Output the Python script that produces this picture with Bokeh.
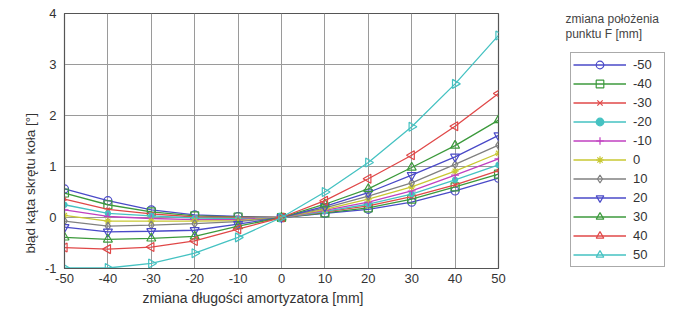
import math
from bokeh.plotting import figure
from bokeh.layouts import row
from bokeh.models import Range1d, FixedTicker, Legend, LegendItem, Label, Title
from bokeh.embed import file_html
from bokeh.resources import INLINE

x_vals = [-50, -40, -30, -20, -10, 0, 10, 20, 30, 40, 50]
series_names = ["-50", "-40", "-30", "-20", "-10", "0", "10", "20", "30", "40", "50"]
s_m50 = [0.56, 0.33, 0.15, 0.05, 0.02, 0, 0.08, 0.16, 0.30, 0.52, 0.77]
s_m40 = [0.48, 0.25, 0.11, 0.03, 0.01, 0, 0.09, 0.19, 0.36, 0.60, 0.85]
s_m30 = [0.36, 0.16, 0.07, 0.01, 0.00, 0, 0.11, 0.23, 0.41, 0.64, 0.92]
s_m20 = [0.25, 0.08, 0.03, -0.01, -0.02, 0, 0.12, 0.26, 0.46, 0.74, 1.03]
s_m10 = [0.15, 0.02, -0.02, -0.04, -0.04, 0, 0.14, 0.30, 0.52, 0.83, 1.15]
s_0 = [0.04, -0.07, -0.07, -0.07, -0.06, 0, 0.16, 0.36, 0.60, 0.91, 1.26]
s_10 = [-0.07, -0.17, -0.15, -0.12, -0.08, 0, 0.19, 0.42, 0.68, 1.04, 1.42]
s_20 = [-0.19, -0.28, -0.27, -0.25, -0.13, 0, 0.22, 0.49, 0.83, 1.19, 1.61]
s_30 = [-0.39, -0.43, -0.41, -0.37, -0.17, 0, 0.26, 0.56, 0.98, 1.41, 1.91]
s_40 = [-0.59, -0.62, -0.58, -0.46, -0.23, 0, 0.33, 0.76, 1.22, 1.79, 2.43]
s_50 = [-0.99, -0.99, -0.90, -0.70, -0.39, 0, 0.50, 1.08, 1.78, 2.62, 3.57]
series = [s_m50, s_m40, s_m30, s_m20, s_m10, s_0, s_10, s_20, s_30, s_40, s_50]

x_ticks = [-50, -40, -30, -20, -10, 0, 10, 20, 30, 40, 50]
y_ticks = [-1, 0, 1, 2, 3, 4]

x_title = "zmiana długości amortyzatora [mm]"
y_title = "błąd kąta skrętu koła [°]"
legend_title_1 = "zmiana położenia"
legend_title_2 = "punktu F [mm]"

BLUE = "#4a4ac8"
GREEN = "#3c9a3c"
RED = "#e04848"
CYAN = "#45c2c2"
MAGENTA = "#c040c0"
YELLOW = "#c8c832"
GRAY = "#808080"
colors = [BLUE, GREEN, RED, CYAN, MAGENTA, YELLOW, GRAY, BLUE, GREEN, RED, CYAN]
markers = ["circle", "square", "x", "circle", "cross", "asterisk", "diamond",
           "inverted_triangle", "triangle", "triangle", "triangle"]
angles = [0, 0, 0, 0, 0, 0, 0, 0, 0, math.pi / 2, -math.pi / 2]
sizes = [8, 8, 5, 5, 8, 7, 8, 9, 9, 9, 9]
filled = [False, False, False, True, False, False, False, False, False, False, False]

FONT = "Liberation Sans"
TXT = "#333333"

# ---------------- main plot ----------------
p = figure(width=508, height=324,
           min_border_left=64, min_border_right=10, min_border_top=13, min_border_bottom=56,
           x_range=Range1d(-50, 50), y_range=Range1d(-1, 4),
           output_backend="svg", toolbar_location=None,
           background_fill_color="white", border_fill_color="white")

p.outline_line_color = "#555555"
p.outline_line_width = 1.2
for ax in (p.xaxis[0], p.yaxis[0]):
    ax.axis_line_color = "#555555"
    ax.major_tick_in = 0
    ax.major_tick_out = 0
    ax.minor_tick_line_color = None
    ax.major_label_text_font = FONT
    ax.major_label_text_font_size = "13px"
    ax.major_label_text_color = TXT
p.xaxis[0].ticker = FixedTicker(ticks=x_ticks)
p.yaxis[0].ticker = FixedTicker(ticks=y_ticks)
p.xaxis[0].major_label_overrides = {t: str(t) for t in x_ticks}
p.yaxis[0].major_label_overrides = {t: str(t) for t in y_ticks}
p.xaxis[0].major_label_standoff = 5
p.yaxis[0].major_label_standoff = 8
p.grid.grid_line_color = "#9a9a9a"
p.grid.grid_line_width = 1
p.xgrid[0].ticker = FixedTicker(ticks=x_ticks)
p.ygrid[0].ticker = FixedTicker(ticks=y_ticks)

for ys, c, m, a, s, f in zip(series, colors, markers, angles, sizes, filled):
    p.line(x_vals, ys, line_color=c, line_width=1.3)
    p.scatter(x_vals, ys, marker=m, angle=a, size=s, line_color=c, line_width=1.2,
              fill_color=c if f else None)

p.add_layout(Title(text=x_title, align="left", offset=78, standoff=4,
                   text_font=FONT, text_font_size="14px", text_font_style="normal",
                   text_color=TXT), "below")
p.add_layout(Title(text=y_title, align="left", offset=15, standoff=8,
                   text_font=FONT, text_font_size="13.5px", text_font_style="normal",
                   text_color=TXT), "left")

# ---------------- legend panel ----------------
# data coordinates of this panel equal page pixels (x from left, y from top)
q = figure(width=167, height=324, min_border=0,
           x_range=Range1d(508, 675), y_range=Range1d(268, 13),
           x_axis_type=None, y_axis_type=None,
           output_backend="svg", toolbar_location=None,
           background_fill_color="white", border_fill_color="white")
q.outline_line_color = None
q.grid.visible = False

items = []
for name, ys, c, m, a, s, f in zip(series_names, series, colors, markers, angles, sizes, filled):
    # same data as the main plot; it falls outside this panel's ranges (only the swatch shows)
    r1 = q.line(x_vals, ys, line_color=c, line_width=1.3)
    r2 = q.scatter(x_vals, ys, marker=m, angle=a, size=s, line_color=c, line_width=1.2,
                   fill_color=c if f else None)
    items.append(LegendItem(label=name, renderers=[r1, r2]))

legend = Legend(items=items, location=(62, 1))
legend.border_line_color = "#555555"
legend.border_line_width = 1.2
legend.background_fill_color = "white"
legend.background_fill_alpha = 1
legend.label_text_font = FONT
legend.label_text_font_size = "13px"
legend.label_text_color = TXT
legend.glyph_width = 53
legend.glyph_height = 19
legend.label_height = 19
legend.label_width = 29
legend.spacing = 0
legend.padding = 2
legend.margin = 0
legend.label_standoff = 7
q.add_layout(legend)

q.add_layout(Label(x=565, y=18, text=legend_title_1, text_font=FONT,
                   text_font_size="12px", text_color="#444444", text_baseline="middle"))
q.add_layout(Label(x=565, y=33, text=legend_title_2, text_font=FONT,
                   text_font_size="12px", text_color="#444444", text_baseline="middle"))

layout = row(p, q)
open("out.html", "w").write(file_html(layout, INLINE))
